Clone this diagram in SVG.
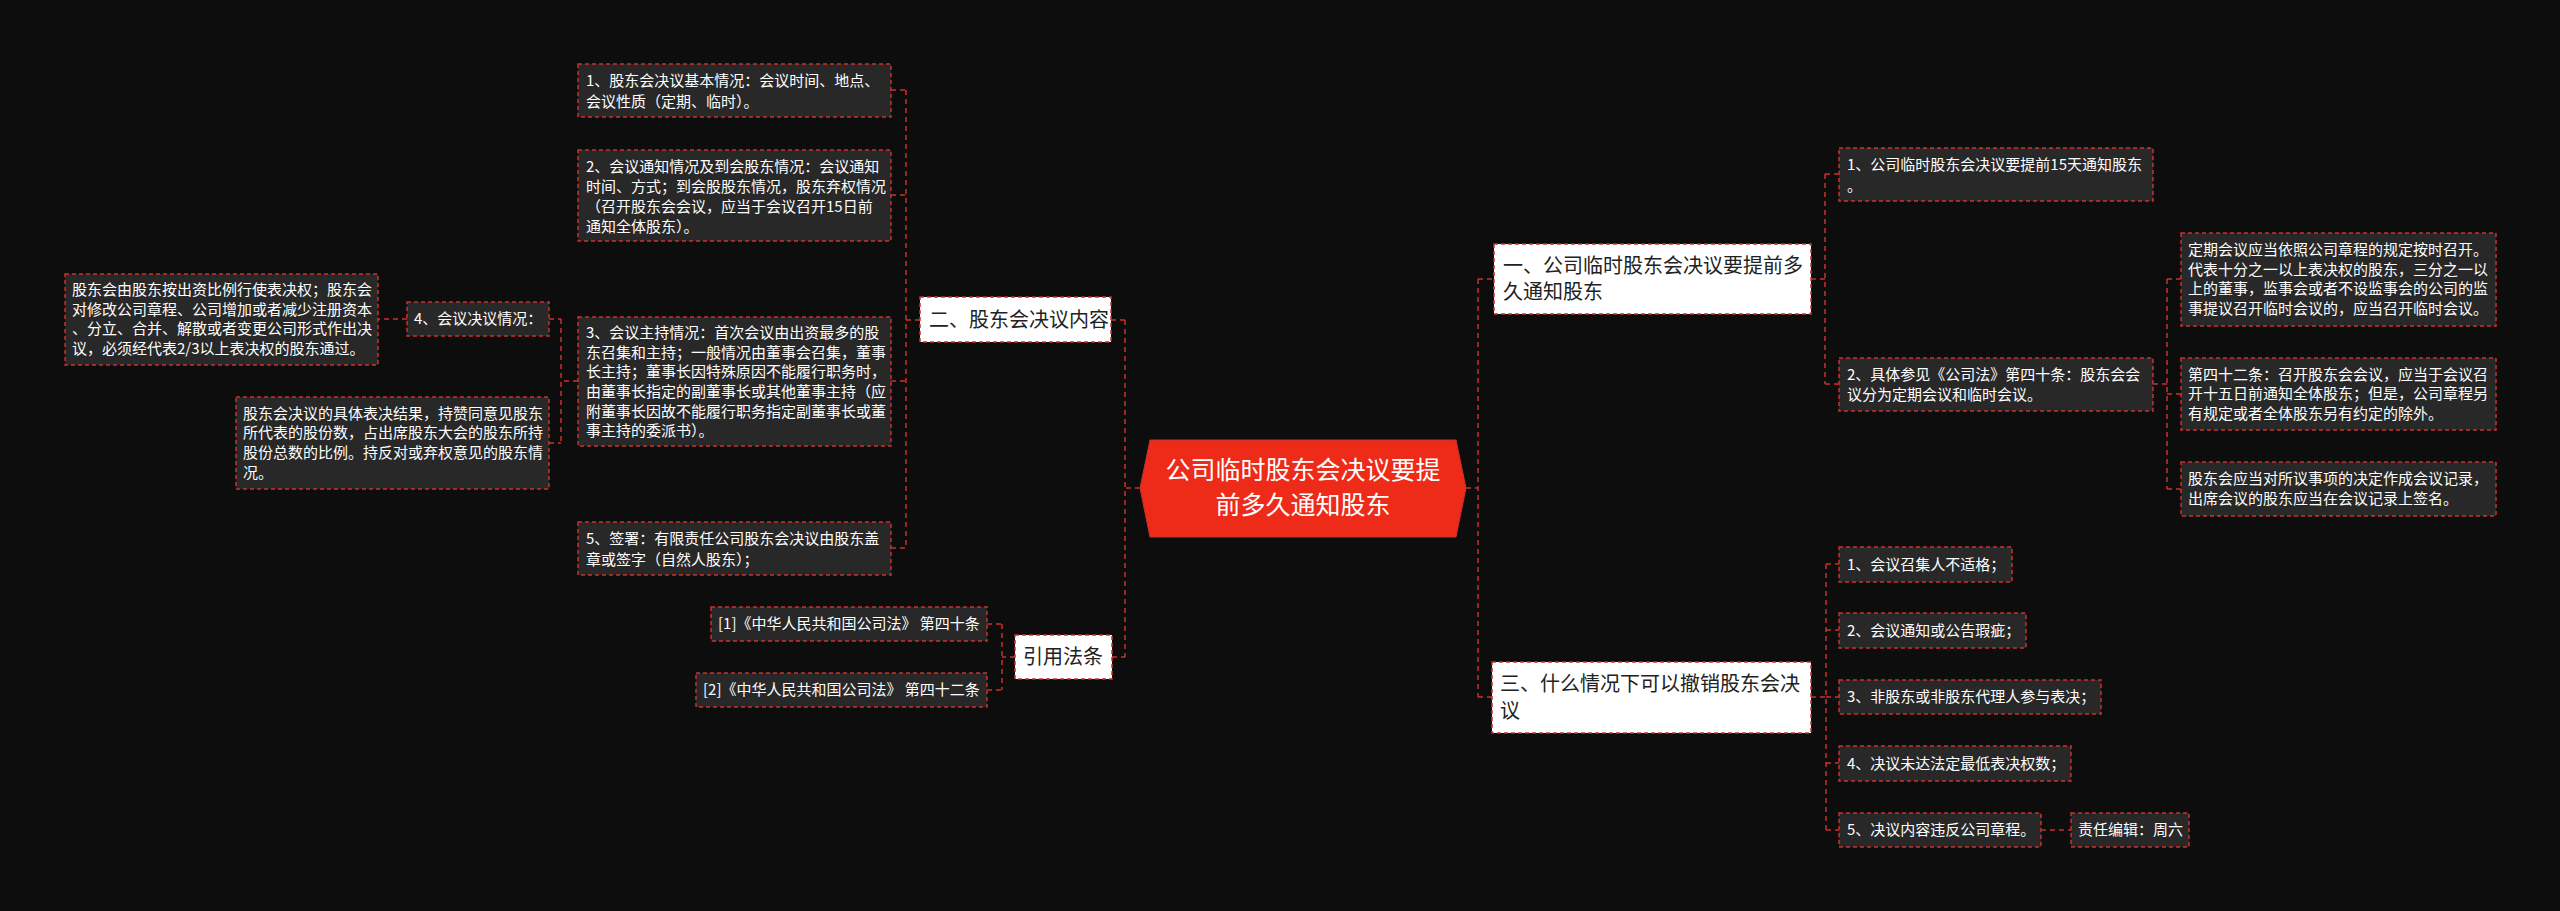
<svg xmlns="http://www.w3.org/2000/svg" width="2560" height="911" viewBox="0 0 2560 911">
<style>
.b{fill:#282828;stroke:#c9302c;stroke-width:1.5;stroke-dasharray:4 3}
.w{fill:#ffffff;stroke:#c9302c;stroke-width:1.5;stroke-dasharray:4 3}
.t{font-family:"Noto Sans CJK SC","Noto Sans",sans-serif;font-size:15px;fill:#ffffff}
.k{font-family:"Noto Sans CJK SC","Noto Sans",sans-serif;font-size:20px;fill:#222222}
.c{fill:none;stroke:#c9302c;stroke-width:1.5;stroke-dasharray:5 4}
</style>
<rect width="2560" height="911" fill="#0d0d0d"/>
<g id="connectors">
<path class="c" d="M1140 488H1125M1125 320V657M1111 320H1125M1112 657H1125"/>
<path class="c" d="M1466 488H1478M1478 279V697M1478 279H1494M1478 697H1492"/>
<path class="c" d="M920 320H906M906 90V548M891 90H906M891 195H906M891 381H906M891 548H906"/>
<path class="c" d="M578 381H561M561 319V443M549 319H561M549 443H561M407 319H378"/>
<path class="c" d="M1015 657H1002M1002 624V690M987 624H1002M987 690H1002"/>
<path class="c" d="M1811 279H1825M1825 174V384M1825 174H1839M1825 384H1839"/>
<path class="c" d="M2153 384H2167M2167 279V489M2167 279H2181M2167 394H2181M2167 489H2181"/>
<path class="c" d="M1811 697H1826M1826 564V830M1826 564H1839M1826 630H1839M1826 697H1839M1826 763H1839M1826 830H1839M2041 830H2071"/>
</g>
<g id="center">
<path d="M1150 440H1456L1466 488L1456 537H1150L1140 488Z" fill="#ee2a19" stroke="#c9302c"/>
<text x="1303" y="479" text-anchor="middle" font-family="Noto Sans CJK SC,sans-serif" font-size="25" fill="#fff">公司临时股东会决议要提</text>
<text x="1303" y="514" text-anchor="middle" font-family="Noto Sans CJK SC,sans-serif" font-size="25" fill="#fff">前多久通知股东</text>
</g>
<g id="n2"><rect class="w" x="920" y="297" width="191" height="45"/><text class="k" x="929" y="327">二、股东会决议内容</text></g>
<g id="n2-1"><rect class="b" x="578" y="64" width="313" height="53"/><text class="t" x="586" y="86">1、股东会决议基本情况：会议时间、地点、</text><text class="t" x="586" y="107">会议性质（定期、临时）。</text></g>
<g id="n2-2"><rect class="b" x="578" y="150" width="313" height="91"/><text class="t" x="586" y="172">2、会议通知情况及到会股东情况：会议通知</text><text class="t" x="586" y="192">时间、方式；到会股股东情况，股东弃权情况</text><text class="t" x="586" y="212">（召开股东会会议，应当于会议召开15日前</text><text class="t" x="586" y="232">通知全体股东）。</text></g>
<g id="n2-3"><rect class="b" x="578" y="317" width="313" height="129"/><text class="t" x="586" y="338">3、会议主持情况：首次会议由出资最多的股</text><text class="t" x="586" y="358">东召集和主持；一般情况由董事会召集，董事</text><text class="t" x="586" y="377">长主持；董事长因特殊原因不能履行职务时，</text><text class="t" x="586" y="397">由董事长指定的副董事长或其他董事主持（应</text><text class="t" x="586" y="417">附董事长因故不能履行职务指定副董事长或董</text><text class="t" x="586" y="436">事主持的委派书）。</text></g>
<g id="n2-5"><rect class="b" x="578" y="522" width="313" height="53"/><text class="t" x="586" y="544">5、签署：有限责任公司股东会决议由股东盖</text><text class="t" x="586" y="565">章或签字（自然人股东）；</text></g>
<g id="n2-4"><rect class="b" x="407" y="302" width="142" height="34"/><text class="t" x="414" y="324">4、会议决议情况：</text></g>
<g id="n2-4a"><rect class="b" x="65" y="274" width="313" height="91"/><text class="t" x="72" y="295">股东会由股东按出资比例行使表决权；股东会</text><text class="t" x="72" y="315">对修改公司章程、公司增加或者减少注册资本</text><text class="t" x="72" y="334">、分立、合并、解散或者变更公司形式作出决</text><text class="t" x="72" y="354">议，必须经代表2/3以上表决权的股东通过。</text></g>
<g id="n2-4b"><rect class="b" x="236" y="397" width="313" height="92"/><text class="t" x="243" y="419">股东会决议的具体表决结果，持赞同意见股东</text><text class="t" x="243" y="438">所代表的股份数，占出席股东大会的股东所持</text><text class="t" x="243" y="458">股份总数的比例。持反对或弃权意见的股东情</text><text class="t" x="243" y="478">况。</text></g>
<g id="nref"><rect class="w" x="1015" y="635" width="97" height="44"/><text class="k" x="1023" y="664">引用法条</text></g>
<g id="nref1"><rect class="b" x="711" y="607" width="276" height="34"/><text class="t" x="718" y="629">[1]《中华人民共和国公司法》 第四十条</text></g>
<g id="nref2"><rect class="b" x="696" y="673" width="291" height="34"/><text class="t" x="703" y="695">[2]《中华人民共和国公司法》 第四十二条</text></g>
<g id="n1"><rect class="w" x="1494" y="244" width="317" height="70"/><text class="k" x="1503" y="273">一、公司临时股东会决议要提前多</text><text class="k" x="1503" y="299">久通知股东</text></g>
<g id="n1-1"><rect class="b" x="1839" y="148" width="314" height="53"/><text class="t" x="1847" y="170">1、公司临时股东会决议要提前15天通知股东</text><text class="t" x="1847" y="191">。</text></g>
<g id="n1-2"><rect class="b" x="1839" y="358" width="314" height="53"/><text class="t" x="1847" y="380">2、具体参见《公司法》第四十条：股东会会</text><text class="t" x="1847" y="400">议分为定期会议和临时会议。</text></g>
<g id="n1-2a"><rect class="b" x="2181" y="233" width="315" height="93"/><text class="t" x="2188" y="255">定期会议应当依照公司章程的规定按时召开。</text><text class="t" x="2188" y="275">代表十分之一以上表决权的股东，三分之一以</text><text class="t" x="2188" y="294">上的董事，监事会或者不设监事会的公司的监</text><text class="t" x="2188" y="314">事提议召开临时会议的，应当召开临时会议。</text></g>
<g id="n1-2b"><rect class="b" x="2181" y="358" width="315" height="72"/><text class="t" x="2188" y="380">第四十二条：召开股东会会议，应当于会议召</text><text class="t" x="2188" y="399">开十五日前通知全体股东；但是，公司章程另</text><text class="t" x="2188" y="419">有规定或者全体股东另有约定的除外。</text></g>
<g id="n1-2c"><rect class="b" x="2181" y="462" width="315" height="54"/><text class="t" x="2188" y="484">股东会应当对所议事项的决定作成会议记录，</text><text class="t" x="2188" y="504">出席会议的股东应当在会议记录上签名。</text></g>
<g id="n3"><rect class="w" x="1492" y="662" width="319" height="71"/><text class="k" x="1500" y="691">三、什么情况下可以撤销股东会决</text><text class="k" x="1500" y="718">议</text></g>
<g id="n3-1"><rect class="b" x="1839" y="547" width="173" height="35"/><text class="t" x="1847" y="570">1、会议召集人不适格；</text></g>
<g id="n3-2"><rect class="b" x="1839" y="613" width="187" height="35"/><text class="t" x="1847" y="636">2、会议通知或公告瑕疵；</text></g>
<g id="n3-3"><rect class="b" x="1839" y="680" width="262" height="34"/><text class="t" x="1847" y="702">3、非股东或非股东代理人参与表决；</text></g>
<g id="n3-4"><rect class="b" x="1839" y="746" width="232" height="35"/><text class="t" x="1847" y="769">4、决议未达法定最低表决权数；</text></g>
<g id="n3-5"><rect class="b" x="1839" y="813" width="202" height="34"/><text class="t" x="1847" y="835">5、决议内容违反公司章程。</text></g>
<g id="n3-5a"><rect class="b" x="2071" y="813" width="118" height="34"/><text class="t" x="2078" y="835">责任编辑：周六</text></g>
</svg>
